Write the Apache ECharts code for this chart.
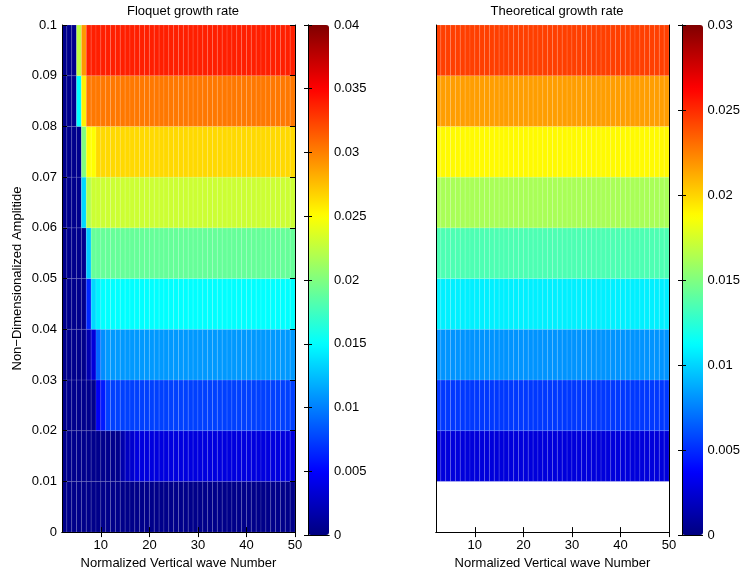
<!DOCTYPE html>
<html>
<head>
<meta charset="utf-8">
<script src="https://cdn.jsdelivr.net/npm/echarts@6/dist/echarts.min.js"></script>
<style>
  html, body { margin: 0; padding: 0; background: #fff; }
  #chart { width: 743px; height: 575px; }
</style>
</head>
<body>
<div id="chart"></div>
<script>
// wave number of the left edge of each cell (last edge is 50)
const waveNumbers = [2, 3, 4, 5, 6, 7, 8, 9, 10, 11, 12, 13, 14, 15, 16, 17, 18, 19, 20, 21, 22, 23, 24, 25,
  26, 27, 28, 29, 30, 31, 32, 33, 34, 35, 36, 37, 38, 39, 40, 41, 42, 43, 44, 45, 46, 47, 48, 49];
// amplitude of the bottom edge of each row
const amplitudes = [0, 0.01, 0.02, 0.03, 0.04, 0.05, 0.06, 0.07, 0.08, 0.09];

// Floquet: first columns of each row (from wave number 2), then the level the row keeps
const floquetLead = [
  [],
  [0.0005, 0.0005, 0.0005, 0.0005, 0.0005, 0.0005, 0.0005, 0.0005, 0.0005, 0.0005, 0.0005, 0.0005, 0.0018, 0.0026, 0.0031],
  [0.0005, 0.0005, 0.0005, 0.0005, 0.0005, 0.0005, 0.0005, 0.0045, 0.006],
  [0.0005, 0.0005, 0.0005, 0.0005, 0.0005, 0.002, 0.0035, 0.009, 0.0105],
  [0.0005, 0.0005, 0.0005, 0.0005, 0.0005, 0.0065, 0.0135, 0.0145],
  [0.0005, 0.0005, 0.0005, 0.0005, 0.0005, 0.013],
  [0.0005, 0.0005, 0.0005, 0.0005, 0.0135, 0.022],
  [0.0005, 0.0005, 0.0005, 0.0005, 0.02, 0.025, 0.025],
  [0.0005, 0.0005, 0.0005, 0.015, 0.0255],
  [0.0005, 0.0005, 0.0005, 0.0225, 0.029]
];
const floquetLevel = [0.0004, 0.0037, 0.0075, 0.011, 0.015, 0.019, 0.023, 0.0265, 0.0303, 0.0338];

// Theoretical: one value per row, rows from 0.01 up
const theoryAmplitudes = [0.01, 0.02, 0.03, 0.04, 0.05, 0.06, 0.07, 0.08, 0.09];
const theoryValues = [0.0027, 0.0054, 0.0081, 0.0108, 0.0135, 0.0162, 0.0189, 0.0216, 0.0244];

const xTicks = [10, 20, 30, 40, 50];
const jet = ['#000080', '#0000ff', '#0080ff', '#00ffff', '#80ff80', '#ffff00', '#ff8000', '#ff0000', '#800000'];

const floquetData = [];
amplitudes.forEach(function (a, r) {
  waveNumbers.forEach(function (k, c) {
    const v = c < floquetLead[r].length ? floquetLead[r][c] : floquetLevel[r];
    floquetData.push([k, a, v]);
  });
});
const theoryData = [];
theoryAmplitudes.forEach(function (a, r) {
  waveNumbers.forEach(function (k) {
    theoryData.push([k, a, theoryValues[r]]);
  });
});

function renderCell(params, api) {
  const x = api.value(0), y = api.value(1);
  const p0 = api.coord([x, y + 0.01]);
  const p1 = api.coord([x + 1, y]);
  return {
    type: 'rect',
    shape: { x: p0[0], y: p0[1], width: p1[0] - p0[0], height: p1[1] - p0[1] },
    style: { fill: api.visual('color'), stroke: 'rgba(255,255,255,0.18)', lineWidth: 0.6 }
  };
}

const font = { fontFamily: 'Liberation Sans', fontSize: 13, color: '#000' };
const line = { show: true, lineStyle: { color: '#000', width: 1 } };

function plotX(grid, top, labels) {
  return {
    type: 'value', gridIndex: grid, min: 2, max: 50, position: top ? 'top' : 'bottom', z: 10,
    axisLine: line, splitLine: { show: false },
    axisTick: { show: true, inside: true, length: 5, customValues: xTicks, lineStyle: { color: '#000' } },
    axisLabel: { show: labels, customValues: xTicks, margin: 7, ...font },
    name: labels ? 'Normalized Vertical wave Number' : '', nameLocation: 'middle', nameGap: 22,
    nameTextStyle: font
  };
}
function plotY(grid, right, labels, ticks) {
  return {
    type: 'value', gridIndex: grid, min: 0, max: 0.1, interval: 0.01, position: right ? 'right' : 'left', z: 10,
    axisLine: line, splitLine: { show: false },
    axisTick: { show: ticks, inside: true, length: 5, lineStyle: { color: '#000' } },
    axisLabel: { show: labels, margin: 5, ...font },
    name: labels ? 'Non\u2212Dimensionalized Amplitide' : '', nameLocation: 'middle', nameGap: 38,
    nameTextStyle: font
  };
}
function barX(grid, top) {
  return {
    type: 'value', gridIndex: grid, min: 0, max: 1, position: top ? 'top' : 'bottom', z: 10,
    axisLine: line, axisTick: { show: false }, axisLabel: { show: false }, splitLine: { show: false }
  };
}
function barY(grid, right, max) {
  return {
    type: 'value', gridIndex: grid, min: 0, max: max, interval: 0.005, position: right ? 'right' : 'left', z: 10,
    axisLine: line, splitLine: { show: false },
    axisTick: { show: true, inside: true, length: 4, lineStyle: { color: '#000' } },
    axisLabel: { show: right, margin: 5, ...font }
  };
}

const chart = echarts.init(document.getElementById('chart'));
chart.setOption({
  backgroundColor: '#fff',
  animation: false,
  title: [
    { text: 'Floquet growth rate', left: 178, top: 0, textAlign: 'center', textStyle: { ...font, fontWeight: 'normal' } },
    { text: 'Theoretical growth rate', left: 552, top: 0, textAlign: 'center', textStyle: { ...font, fontWeight: 'normal' } }
  ],
  grid: [
    { left: 62, top: 25, width: 233, height: 510 },
    { left: 308, top: 25, width: 21, height: 510 },
    { left: 436, top: 25, width: 233, height: 510 },
    { left: 682, top: 25, width: 21, height: 510 }
  ],
  xAxis: [
    plotX(0, false, true), plotX(0, true, false),
    barX(1, false), barX(1, true),
    plotX(2, false, true), plotX(2, true, false),
    barX(3, false), barX(3, true)
  ],
  yAxis: [
    plotY(0, false, true, true), plotY(0, true, false, true),
    barY(1, false, 0.04), barY(1, true, 0.04),
    plotY(2, false, false, false), plotY(2, true, false, false),
    barY(3, false, 0.03), barY(3, true, 0.03)
  ],
  visualMap: [
    {
      type: 'continuous', seriesIndex: 0, dimension: 2, min: 0, max: 0.04,
      left: 308, top: 25, itemWidth: 21, itemHeight: 510, padding: 0,
      calculable: false, showLabel: false, hoverLink: false, inRange: { color: jet }
    },
    {
      type: 'continuous', seriesIndex: 1, dimension: 2, min: 0, max: 0.03,
      left: 682, top: 25, itemWidth: 21, itemHeight: 510, padding: 0,
      calculable: false, showLabel: false, hoverLink: false, inRange: { color: jet }
    }
  ],
  series: [
    { type: 'custom', name: 'Floquet', xAxisIndex: 0, yAxisIndex: 0, renderItem: renderCell, data: floquetData, silent: true },
    { type: 'custom', name: 'Theoretical', xAxisIndex: 4, yAxisIndex: 4, renderItem: renderCell, data: theoryData, silent: true }
  ]
});
window.addEventListener('resize', function () { chart.resize(); });
</script>
</body>
</html>
